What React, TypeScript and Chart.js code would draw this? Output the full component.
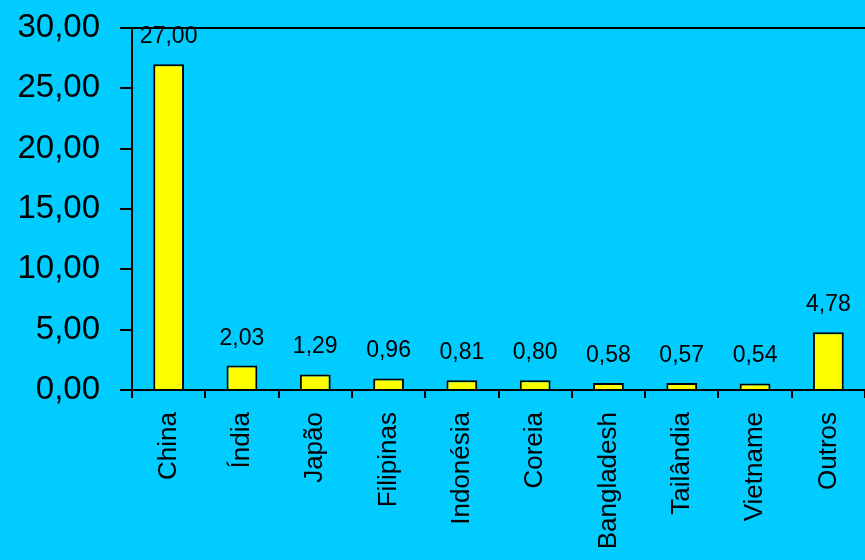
import React, { useEffect, useRef } from "react";
import { Chart, registerables } from "chart.js";

Chart.register(...registerables);

const categories = ["China", "Índia", "Japão", "Filipinas", "Indonésia", "Coreia", "Bangladesh", "Tailândia", "Vietname", "Outros"];
const values = [27.0, 2.03, 1.29, 0.96, 0.81, 0.8, 0.58, 0.57, 0.54, 4.78];
const yTicks = [0, 5, 10, 15, 20, 25, 30];

const FONT = "'Liberation Sans', Arial, sans-serif";
const fmt = (v: number) => v.toFixed(2).replace(".", ",");

const valueLabels = {
  id: "valueLabels",
  afterDatasetsDraw(chart: any) {
    const ctx = chart.ctx;
    const meta = chart.getDatasetMeta(0);
    ctx.save();
    ctx.font = `23px ${FONT}`;
    ctx.fillStyle = "#000";
    ctx.textAlign = "center";
    ctx.textBaseline = "alphabetic";
    meta.data.forEach((bar: any, i: number) => {
      ctx.fillText(fmt(values[i]), bar.x, bar.y - 21);
    });
    ctx.restore();
  },
};

export default function App() {
  const ref = useRef<HTMLCanvasElement>(null);
  useEffect(() => {
    if (!ref.current) return;
    const chart = new Chart(ref.current, {
      type: "bar",
      data: {
        labels: categories,
        datasets: [
          {
            data: values,
            backgroundColor: "#FFFF00",
            borderColor: "#000",
            borderWidth: 2,
            barPercentage: 0.42,
            categoryPercentage: 1,
          },
        ],
      },
      options: {
        responsive: false,
        animation: false,
        layout: { padding: { top: 28, right: 0, left: 0, bottom: 0 } },
        plugins: { legend: { display: false }, tooltip: { enabled: false } },
        scales: {
          x: {
            offset: true,
            afterFit: (s: any) => {
              s.height = 170;
              s.paddingLeft = 0;
              s.paddingRight = 0;
            },
            border: { display: true, color: "#000", width: 2 },
            grid: {
              offset: true,
              drawOnChartArea: false,
              drawTicks: true,
              tickLength: 8,
              color: "#000",
              lineWidth: 2,
            },
            ticks: {
              autoSkip: false,
              maxRotation: 90,
              minRotation: 90,
              padding: 14,
              color: "#000",
              font: { family: FONT, size: 26 },
            },
          },
          y: {
            min: 0,
            max: 30,
            afterFit: (s: any) => {
              s.width = 132;
              s.paddingTop = 0;
              s.paddingBottom = 0;
            },
            afterBuildTicks: (s: any) => {
              s.ticks = yTicks.map((v) => ({ value: v }));
            },
            border: { display: true, color: "#000", width: 2 },
            grid: {
              drawOnChartArea: true,
              tickLength: 12,
              tickColor: "#000",
              lineWidth: 2,
              color: (c: any) => (c.tick && c.tick.value === 30 ? "#000" : "rgba(0,0,0,0)"),
            },
            ticks: {
              padding: 20,
              color: "#000",
              font: { family: FONT, size: 33 },
              callback: (v: any) => fmt(Number(v)),
            },
          },
        },
      },
      plugins: [valueLabels],
    });
    return () => chart.destroy();
  }, []);
  return (
    <div style={{ position: "fixed", left: 0, top: 0, width: 865, height: 560, background: "#00CCFF" }}>
      <canvas ref={ref} width={865} height={560} style={{ display: "block" }} />
    </div>
  );
}
